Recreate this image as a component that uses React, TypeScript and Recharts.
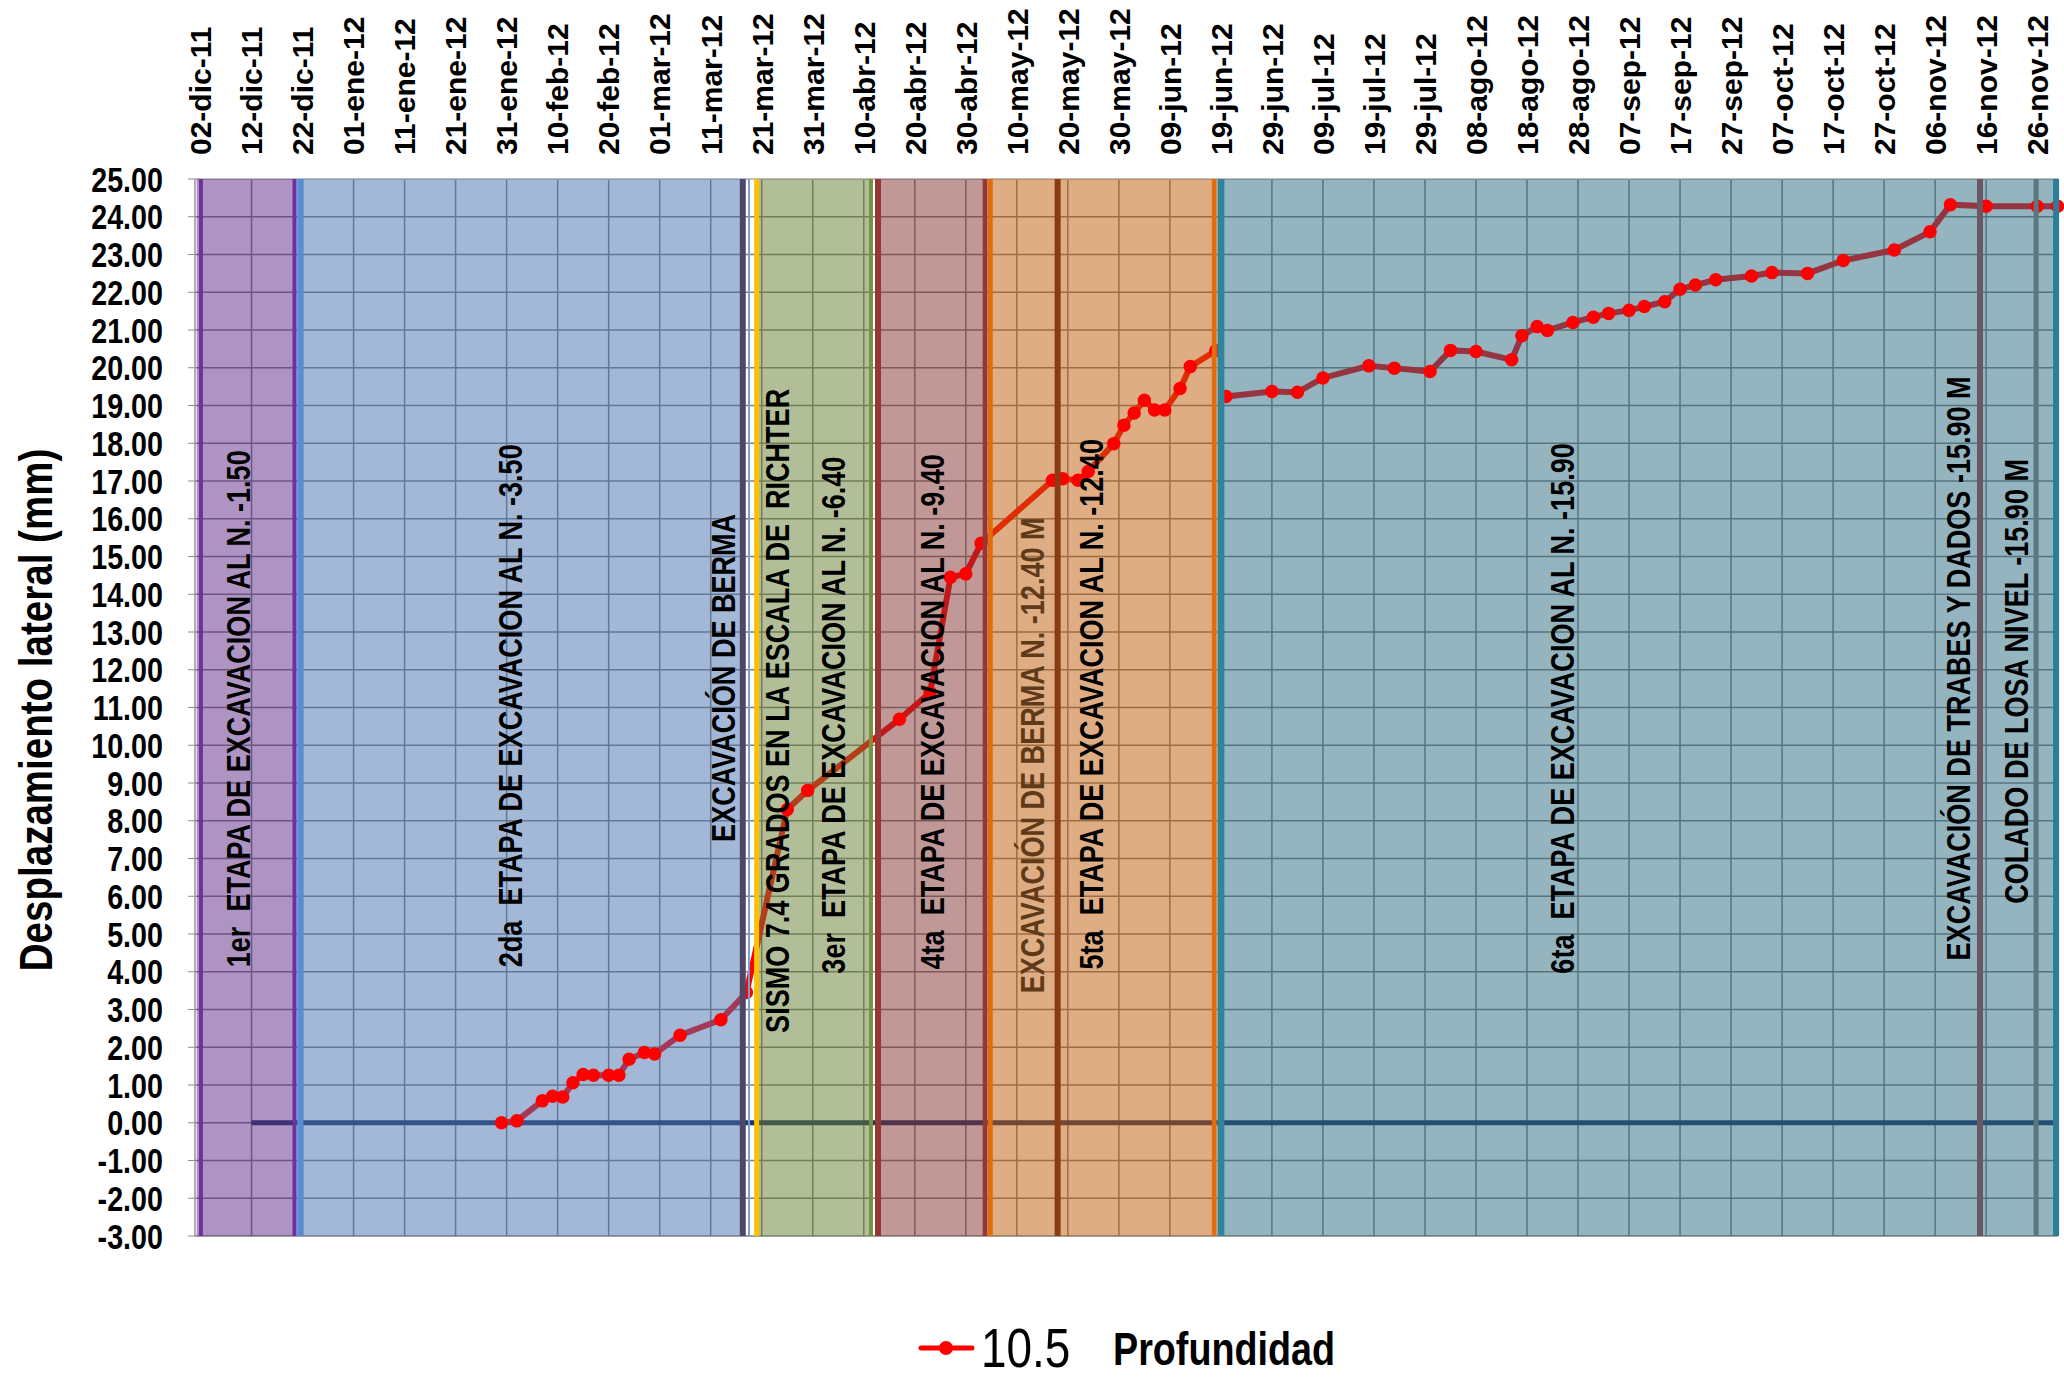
import React from 'react';
import {
  LineChart,
  Line,
  XAxis,
  YAxis,
  CartesianGrid,
  ReferenceArea,
  ReferenceLine,
  ReferenceDot,
} from 'recharts';

// --- datos -----------------------------------------------------------

const fechas = [
  '2012-01-30', '2012-02-02', '2012-02-07', '2012-02-09', '2012-02-11', '2012-02-13',
  '2012-02-15', '2012-02-17', '2012-02-20', '2012-02-22', '2012-02-24', '2012-02-27',
  '2012-02-29', '2012-03-05', '2012-03-13', '2012-03-18', '2012-03-26', '2012-03-30',
  '2012-04-17', '2012-04-23', '2012-04-27', '2012-04-30', '2012-05-03', '2012-05-17',
  '2012-05-19', '2012-05-22', '2012-05-24', '2012-05-29', '2012-05-31', '2012-06-02',
  '2012-06-04', '2012-06-06', '2012-06-08', '2012-06-11', '2012-06-13', '2012-06-18',
  '2012-06-19', '2012-06-20', '2012-06-29', '2012-07-04', '2012-07-09', '2012-07-18',
  '2012-07-23', '2012-07-30', '2012-08-03', '2012-08-08', '2012-08-15', '2012-08-17',
  '2012-08-20', '2012-08-22', '2012-08-27', '2012-08-31', '2012-09-03', '2012-09-07',
  '2012-09-10', '2012-09-14', '2012-09-17', '2012-09-20', '2012-09-24', '2012-10-01',
  '2012-10-05', '2012-10-12', '2012-10-19', '2012-10-29', '2012-11-05', '2012-11-09',
  '2012-11-16', '2012-11-26', '2012-11-30',
];

// profundidad 10.5 m, desplazamiento en mm (null = corte entre etapas)
const desplazamiento = [
  0.0, 0.05, 0.58, 0.7, 0.68, 1.06,
  1.28, 1.26, 1.26, 1.26, 1.68, 1.86,
  1.82, 2.32, 2.73, 3.45, 8.3, 8.8,
  10.69, 11.4, 14.45, 14.54, 15.35, 17.02,
  17.06, 17.02, 17.25, 17.99, 18.48, 18.8,
  19.14, 18.88, 18.88, 19.45, 20.03, 20.45,
  null, 19.24, 19.37, 19.35, 19.73, 20.05,
  19.99, 19.9, 20.46, 20.43, 20.21, 20.85,
  21.09, 20.99, 21.2, 21.34, 21.44, 21.52,
  21.62, 21.75, 22.08, 22.19, 22.33, 22.43,
  22.52, 22.5, 22.84, 23.12, 23.6, 24.32,
  24.28, 24.28, 24.28,
];

const fechasBase = ['2011-12-12', '2012-11-30'];
const valoresBase = [0, 0];

const ticksFecha = [
  '2011-12-02', '2011-12-12', '2011-12-22', '2012-01-01', '2012-01-11', '2012-01-21',
  '2012-01-31', '2012-02-10', '2012-02-20', '2012-03-01', '2012-03-11', '2012-03-21',
  '2012-03-31', '2012-04-10', '2012-04-20', '2012-04-30', '2012-05-10', '2012-05-20',
  '2012-05-30', '2012-06-09', '2012-06-19', '2012-06-29', '2012-07-09', '2012-07-19',
  '2012-07-29', '2012-08-08', '2012-08-18', '2012-08-28', '2012-09-07', '2012-09-17',
  '2012-09-27', '2012-10-07', '2012-10-17', '2012-10-27', '2012-11-06', '2012-11-16',
  '2012-11-26',
];

const ticksY = [-3, -2, -1, 0, 1, 2, 3, 4, 5, 6, 7, 8, 9, 10, 11, 12, 13, 14, 15, 16, 17, 18, 19, 20, 21, 22, 23, 24, 25];

const MESES = ['ene', 'feb', 'mar', 'abr', 'may', 'jun', 'jul', 'ago', 'sep', 'oct', 'nov', 'dic'];

// etapas (franjas de color)
const etapasInicio = ['2011-12-01T06:00', '2011-12-20T10:00', '2012-03-20T00:00', '2012-04-12T19:00', '2012-05-04T19:00', '2012-06-19T00:00'];
const etapasFin = ['2011-12-20T10:00', '2012-03-17T07:00', '2012-04-11T10:00', '2012-05-03T19:00', '2012-06-17T17:00', '2012-11-29T17:00'];
const etapasColor = ['#5D2985', '#4771AD', '#657D31', '#813131', '#BF5B09', '#296981'];

// lineas verticales de separacion
const lineasFecha = [
  '2011-12-02T02:00', '2011-12-20T10:00', '2011-12-21T14:00', '2012-03-17T07:00', '2012-03-18T12:00',
  '2012-03-20T00:00', '2012-04-11T10:00', '2012-04-12T19:00', '2012-05-03T19:00', '2012-05-04T19:00',
  '2012-05-18T00:00', '2012-06-17T17:00', '2012-06-19T00:00', '2012-11-14T19:00', '2012-11-25T19:00',
  '2012-11-29T17:00',
];
const lineasColor = [
  '#7030A0', '#7030A0', '#558ED5', '#4E4866', '#6FA0DC',
  '#FFC000', '#77933C', '#953735', '#953735', '#E46C0A',
  '#8A3B12', '#E46C0A', '#31849B', '#6B5762', '#58777F',
  '#2E7D98',
];
const lineasAncho = [4, 4, 6, 6, 2, 5, 4, 6, 5, 5, 6, 5, 7, 6, 5, 6];

// notas verticales
const notasTexto = [
  '1er  ETAPA DE EXCAVACION AL N. -1.50',
  '2da  ETAPA DE EXCAVACION AL N. -3.50',
  'EXCAVACIÓN DE BERMA',
  'SISMO 7.4 GRADOS EN LA ESCALA DE  RICHTER',
  '3er  ETAPA DE EXCAVACION AL N. -6.40',
  '4ta  ETAPA DE EXCAVACION AL N. -9.40',
  'EXCAVACIÓN DE BERMA N. -12.40 M',
  '5ta  ETAPA DE EXCAVACION AL N. -12.40',
  '6ta  ETAPA DE EXCAVACION AL N. -15.90',
  'EXCAVACIÓN DE TRABES Y DADOS -15.90 M',
  'COLADO DE LOSA NIVEL -15.90 M',
];
const notasFecha = [
  '2011-12-09T07:00', '2012-01-31T14:00', '2012-03-13T10:00', '2012-03-24T00:00', '2012-04-04T00:00',
  '2012-04-23T10:00', '2012-05-13T00:00', '2012-05-24T12:00', '2012-08-24T22:00', '2012-11-10T12:00',
  '2012-11-21T22:00',
];
const notasY = [4.12, 4.12, 7.44, 2.38, 3.95, 4.06, 3.43, 4.06, 3.95, 4.3, 5.8];
const notasColor = ['#000', '#000', '#000', '#000', '#000', '#000', '#5E3A18', '#000', '#000', '#000', '#000'];

// --- helpers ---------------------------------------------------------

const ms = (s: string) => Date.parse(s.length > 10 ? s + ':00Z' : s + 'T00:00:00Z');

const fmtFecha = (t: number) => {
  const d = new Date(t);
  const dd = String(d.getUTCDate()).padStart(2, '0');
  const yy = String(d.getUTCFullYear()).slice(2);
  return `${dd}-${MESES[d.getUTCMonth()]}-${yy}`;
};

const FONT = "'Liberation Sans', Arial, sans-serif";

const serie = fechas.map((f, i) => ({ t: ms(f), v: desplazamiento[i] }));
const base = fechasBase.map((f, i) => ({ t: ms(f), v: valoresBase[i] }));

// texto "Arial Narrow": Liberation Sans comprimido a lo largo del texto
type AngostoProps = {
  x: number;
  y: number;
  rot?: number;
  anchor?: 'start' | 'middle' | 'end';
  size: number;
  bold?: boolean;
  color?: string;
  children: React.ReactNode;
};
const Angosto = ({ x, y, rot = 0, anchor = 'start', size, bold = true, color = '#000', children }: AngostoProps) => (
  <text
    transform={`translate(${x} ${y}) rotate(${rot}) scale(0.82 1)`}
    dy="0.36em"
    textAnchor={anchor}
    fontFamily={FONT}
    fontWeight={bold ? 700 : 400}
    fontSize={size}
    fill={color}
    style={{ whiteSpace: 'pre' }}
  >
    {children}
  </text>
);

const TickFecha = (props: any) => {
  const { x, y, payload } = props;
  return (
    <text
      x={x}
      y={y}
      transform={`rotate(-90 ${x} ${y})`}
      dy="0.36em"
      textAnchor="start"
      fontFamily={FONT}
      fontWeight={700}
      fontSize={30}
      fill="#000"
    >
      {fmtFecha(payload.value)}
    </text>
  );
};

const TickY = (props: any) => {
  const { x, y, payload } = props;
  return (
    <Angosto x={x} y={y} anchor="end" size={35}>
      {Number(payload.value).toFixed(2)}
    </Angosto>
  );
};

const notaShape = (texto: string, color: string) => (p: any) => (
  <Angosto x={p.cx} y={p.cy} rot={-90} size={33} color={color}>
    {texto}
  </Angosto>
);

export default function App() {
  return (
    <div style={{ position: 'absolute', left: 0, top: 0, width: 2064, height: 1377, background: '#fff' }}>
      <LineChart width={2064} height={1377} data={serie} margin={{ top: 19, right: 6, bottom: 141, left: 0 }}>
        <CartesianGrid stroke="#7F7F7F" strokeWidth={1.5} />
        <XAxis
          dataKey="t"
          type="number"
          orientation="top"
          domain={[ms('2011-11-30T22:00'), ms('2012-11-30T02:00')]}
          ticks={ticksFecha.map(ms)}
          interval={0}
          height={160}
          tickSize={0}
          tickMargin={24}
          tick={<TickFecha />}
          axisLine={{ stroke: '#BFBFBF', strokeWidth: 2 }}
        />
        <YAxis
          type="number"
          domain={[-3, 25]}
          ticks={ticksY}
          interval={0}
          width={195}
          tickSize={7}
          tickMargin={25}
          tick={<TickY />}
          tickLine={{ stroke: '#8C8C8C' }}
          axisLine={{ stroke: '#BFBFBF' }}
          label={() => (
            <Angosto x={35} y={710} rot={-90} anchor="middle" size={47}>
              Desplazamiento lateral (mm)
            </Angosto>
          )}
        />
        <Line
          data={base}
          dataKey="v"
          stroke="#1E3566"
          strokeWidth={5}
          dot={false}
          activeDot={false}
          isAnimationActive={false}
        />
        <Line
          dataKey="v"
          name="10.5 Profundidad"
          stroke="#FF0000"
          strokeWidth={6}
          dot={{ r: 6, fill: '#FF0000', stroke: '#FF0000', strokeWidth: 1.5 }}
          activeDot={false}
          connectNulls={false}
          isAnimationActive={false}
        />
        {etapasInicio.map((ini, i) => (
          <ReferenceArea
            key={`a${i}`}
            x1={ms(ini)}
            x2={ms(etapasFin[i])}
            fill={etapasColor[i]}
            fillOpacity={0.5}
            stroke="none"
            zIndex={500}
          />
        ))}
        {lineasFecha.map((f, i) => (
          <ReferenceLine key={`l${i}`} x={ms(f)} stroke={lineasColor[i]} strokeWidth={lineasAncho[i]} zIndex={600} />
        ))}
        {notasTexto.map((txt, i) => (
          <ReferenceDot
            key={`n${i}`}
            x={ms(notasFecha[i])}
            y={notasY[i]}
            r={0}
            shape={notaShape(txt, notasColor[i])}
            zIndex={700}
          />
        ))}
      </LineChart>
      <svg width={2064} height={77} style={{ position: 'absolute', left: 0, top: 1296 }}>
        <line x1={921} y1={52} x2={972} y2={52} stroke="#FF0000" strokeWidth={5} strokeLinecap="round" />
        <circle cx={946} cy={52} r={7} fill="#FF0000" />
        <Angosto x={981} y={51} size={56} bold={false}>
          10.5
        </Angosto>
        <Angosto x={1113} y={52} size={46}>
          Profundidad
        </Angosto>
      </svg>
    </div>
  );
}
